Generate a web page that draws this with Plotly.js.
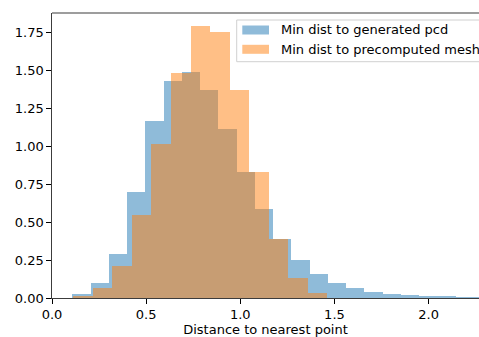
<!DOCTYPE html>
<html>
<head>
<meta charset="utf-8">
<script src="https://cdn.plot.ly/plotly-3.0.1.min.js"></script>
<style>
  html, body { margin: 0; padding: 0; background: #fff; }
  #chart { width: 479px; height: 337px; }
</style>
</head>
<body>
<div id="chart"></div>
<script>
// ---- data (density histogram) ----
const seriesNames = ["Min dist to generated pcd", "Min dist to precomputed mesh"];

const pcdBinStart = 0.1078;
const pcdBinWidth = 0.09697;
const pcdDensity = [0.024, 0.097, 0.288, 0.697, 1.166, 1.429, 1.489, 1.370, 1.113, 0.829,
                    0.585, 0.387, 0.249, 0.157, 0.099, 0.066, 0.038, 0.024, 0.018, 0.013,
                    0.013, 0.007, 0.007];

const meshBinStart = 0.1131;
const meshBinWidth = 0.10377;
const meshDensity = [0.013, 0.066, 0.211, 0.545, 1.014, 1.482, 1.792, 1.752, 1.370, 0.829,
                     0.387, 0.132, 0.031];

const xTickVals = [0.0, 0.5, 1.0, 1.5, 2.0];
const xTickText = ["0.0", "0.5", "1.0", "1.5", "2.0"];
const yTickVals = [0.00, 0.25, 0.50, 0.75, 1.00, 1.25, 1.50, 1.75];
const yTickText = ["0.00", "0.25", "0.50", "0.75", "1.00", "1.25", "1.50", "1.75"];
const xTitle = "Distance to nearest point";

// ---- build traces ----
function leftEdges(start, width, n) {
  const e = [];
  for (let i = 0; i < n; i++) e.push(start + i * width);
  return e;
}

const blue = "rgba(31,119,180,0.5)";
const orange = "rgba(255,127,14,0.5)";

const traces = [
  {
    type: "bar",
    name: seriesNames[0],
    x: leftEdges(pcdBinStart, pcdBinWidth, pcdDensity.length),
    y: pcdDensity,
    width: pcdDensity.map(() => pcdBinWidth),
    offset: 0,
    marker: { color: blue, line: { width: 0 } },
    hoverinfo: "x+y"
  },
  {
    type: "bar",
    name: seriesNames[1],
    x: leftEdges(meshBinStart, meshBinWidth, meshDensity.length),
    y: meshDensity,
    width: meshDensity.map(() => meshBinWidth),
    offset: 0,
    marker: { color: orange, line: { width: 0 } },
    hoverinfo: "x+y"
  }
];

// ---- layout ----
const W = 479, H = 337;
const M = { l: 52, r: 0, t: 13, b: 39 };
const pw = W - M.l - M.r, ph = H - M.t - M.b;
const px = v => (v - M.l) / pw;          // pixel -> paper x
const py = v => 1 - (v - M.t) / ph;      // pixel -> paper y

const font = "DejaVu Sans, Liberation Sans, sans-serif";
const spine = "rgb(60,60,60)";

const shapes = [
  // top spine
  { type: "line", xref: "paper", yref: "paper", x0: 0, x1: 1, y0: 1, y1: 1,
    line: { color: spine, width: 1.2 } },
  // legend frame
  { type: "rect", xref: "paper", yref: "paper",
    x0: px(236.7), x1: px(485), y0: py(61.7), y1: py(20),
    fillcolor: "rgba(255,255,255,0.8)", line: { color: "#d0d0d0", width: 1 } },
  // legend swatches
  { type: "rect", xref: "paper", yref: "paper",
    x0: px(242.3), x1: px(269), y0: py(34.5), y1: py(25.5),
    fillcolor: blue, line: { width: 0 } },
  { type: "rect", xref: "paper", yref: "paper",
    x0: px(242.3), x1: px(269), y0: py(53.8), y1: py(44.8),
    fillcolor: orange, line: { width: 0 } }
];

const annotations = [
  { xref: "paper", yref: "paper", x: px(279.3), y: py(30), xanchor: "left", yanchor: "middle",
    text: seriesNames[0], showarrow: false, font: { family: font, size: 13, color: "#000" } },
  { xref: "paper", yref: "paper", x: px(279.3), y: py(49.3), xanchor: "left", yanchor: "middle",
    text: seriesNames[1], showarrow: false, font: { family: font, size: 13, color: "#000" } }
];

const layout = {
  width: W, height: H,
  margin: M,
  paper_bgcolor: "#fff",
  plot_bgcolor: "#fff",
  barmode: "overlay",
  bargap: 0,
  showlegend: false,
  font: { family: font, size: 13, color: "#000" },
  xaxis: {
    range: [0, pw / 188.3],
    tickvals: xTickVals, ticktext: xTickText,
    ticks: "outside", ticklen: 4.5, tickwidth: 1, tickcolor: "#000",
    showline: true, linecolor: spine, linewidth: 1.2,
    showgrid: false, zeroline: false,
    tickfont: { family: font, size: 13, color: "#000" },
    title: { text: xTitle, standoff: 4, font: { family: font, size: 13, color: "#000" } }
  },
  yaxis: {
    range: [0, ph / 151.6],
    tickvals: yTickVals, ticktext: yTickText,
    ticks: "outside", ticklen: 4.5, tickwidth: 1, tickcolor: "#000",
    showline: true, linecolor: spine, linewidth: 1.2,
    showgrid: false, zeroline: false,
    tickfont: { family: font, size: 13, color: "#000" }
  },
  shapes: shapes,
  annotations: annotations
};

Plotly.newPlot("chart", traces, layout, { displayModeBar: false, staticPlot: true });
</script>
</body>
</html>
